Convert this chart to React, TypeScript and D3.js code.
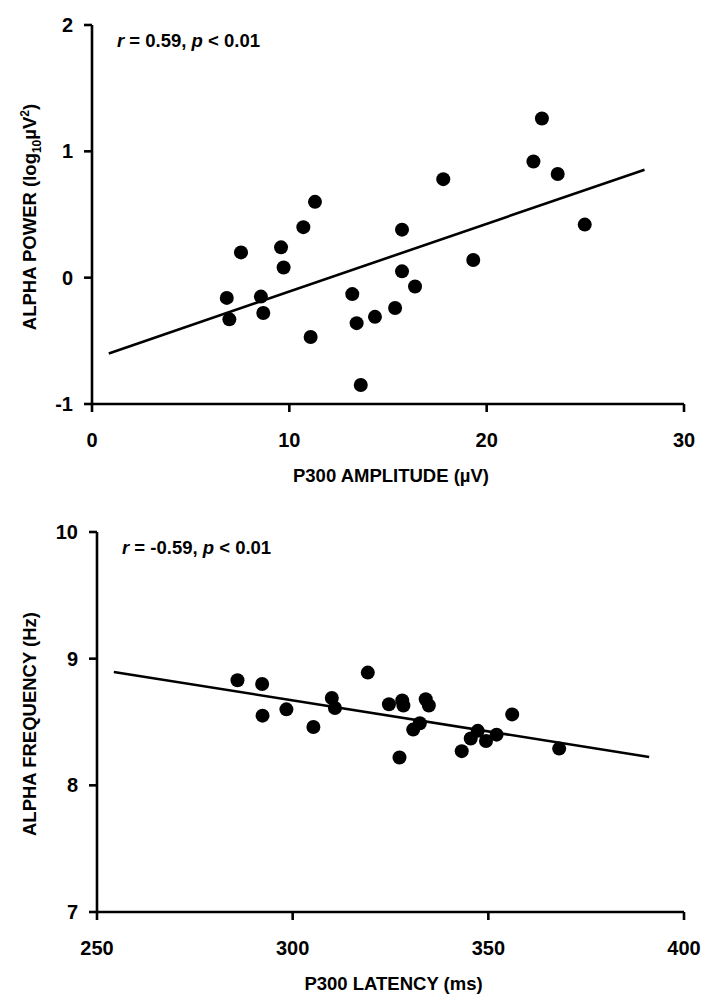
import React from "react";
import * as d3 from "d3";

// P300 amplitude (µV) vs alpha power (log10 µV²)
const amplitude = [6.83, 6.96, 7.55, 8.56, 8.68, 9.58, 9.71, 10.71, 11.08, 11.3, 13.19, 13.41, 13.62, 14.34, 15.36, 15.71, 15.71, 16.37, 17.8, 19.32, 22.37, 22.8, 23.6, 24.97];
const alphaPower = [-0.16, -0.33, 0.2, -0.15, -0.28, 0.24, 0.08, 0.4, -0.47, 0.6, -0.13, -0.36, -0.85, -0.31, -0.24, 0.38, 0.05, -0.07, 0.78, 0.14, 0.92, 1.26, 0.82, 0.42];
const powerFitX = [0.85, 28.0];
const powerFitY = [-0.6, 0.855];
const amplitudeTicks = [0, 10, 20, 30];
const powerTicks = [-1, 0, 1, 2];

// P300 latency (ms) vs alpha frequency (Hz)
const latency = [285.9, 292.2, 292.3, 298.4, 305.3, 310.0, 310.8, 319.2, 324.6, 328.0, 328.3, 327.3, 334.0, 334.8, 332.5, 330.8, 343.2, 345.5, 347.3, 349.4, 352.1, 356.1, 368.1];
const alphaFreq = [8.83, 8.8, 8.55, 8.6, 8.46, 8.69, 8.61, 8.89, 8.64, 8.67, 8.63, 8.22, 8.68, 8.63, 8.49, 8.44, 8.27, 8.37, 8.43, 8.35, 8.4, 8.56, 8.29];
const freqFitX = [254.3, 391.1];
const freqFitY = [8.895, 8.224];
const latencyTicks = [250, 300, 350, 400];
const freqTicks = [7, 8, 9, 10];

const FONT = "'Liberation Sans', Arial, Helvetica, sans-serif";

interface PanelProps {
  xs: number[];
  ys: number[];
  fitX: number[];
  fitY: number[];
  xTicks: number[];
  yTicks: number[];
  left: number;
  right: number;
  top: number;
  bottom: number;
  xTitle: string;
  yTitle: React.ReactNode;
  yTitleCenter: number;
  r: string;
}

const Panel: React.FC<PanelProps> = (p) => {
  const x = d3
    .scaleLinear()
    .domain(d3.extent(p.xTicks) as [number, number])
    .range([p.left, p.right]);
  const y = d3
    .scaleLinear()
    .domain(d3.extent(p.yTicks) as [number, number])
    .range([p.bottom, p.top]);

  const line = d3
    .line<number>()
    .x((_, i) => x(p.fitX[i]))
    .y((d) => y(d));

  return (
    <g fontFamily={FONT} fontWeight="bold" fill="#000">
      {/* axes */}
      <line x1={p.left} x2={p.left} y1={p.top} y2={p.bottom} stroke="#000" strokeWidth={2.6} />
      <line x1={p.left} x2={p.right} y1={p.bottom} y2={p.bottom} stroke="#000" strokeWidth={2.6} />
      {p.yTicks.map((t) => (
        <g key={"y" + t}>
          <line x1={p.left - 8} x2={p.left} y1={y(t)} y2={y(t)} stroke="#000" strokeWidth={2.6} />
          <text x={p.left - 19} y={y(t) + 7} textAnchor="end" fontSize={20}>
            {t}
          </text>
        </g>
      ))}
      {p.xTicks.map((t) => (
        <g key={"x" + t}>
          <line x1={x(t)} x2={x(t)} y1={p.bottom} y2={p.bottom + 8} stroke="#000" strokeWidth={2.6} />
          <text x={x(t)} y={p.bottom + 43} textAnchor="middle" fontSize={20}>
            {t}
          </text>
        </g>
      ))}
      <text x={(p.left + p.right) / 2 + 3} y={p.bottom + 78} textAnchor="middle" fontSize={18.5}>
        {p.xTitle}
      </text>
      <text
        transform={`translate(36, ${p.yTitleCenter}) rotate(-90)`}
        textAnchor="middle"
        fontSize={18.5}
      >
        {p.yTitle}
      </text>
      <text x={p.left + 25} y={p.top + 22} fontSize={18.5}>
        <tspan fontStyle="italic">r</tspan>
        {` = ${p.r}, `}
        <tspan fontStyle="italic">p</tspan>
        {" < 0.01"}
      </text>
      {/* regression line */}
      <path d={line(p.fitY) || ""} fill="none" stroke="#000" strokeWidth={2.6} />
      {p.xs.map((v, i) => (
        <circle key={i} cx={x(v)} cy={y(p.ys[i])} r={7} fill="#000" />
      ))}
    </g>
  );
};

export default function App() {
  return (
    <svg
      width={711}
      height={1006}
      style={{ position: "absolute", left: 0, top: 0, background: "#fff" }}
    >
      <rect width={711} height={1006} fill="#fff" />
      <Panel
        xs={amplitude}
        ys={alphaPower}
        fitX={powerFitX}
        fitY={powerFitY}
        xTicks={amplitudeTicks}
        yTicks={powerTicks}
        left={92}
        right={684}
        top={25}
        bottom={404}
        xTitle="P300 AMPLITUDE (µV)"
        yTitle={
          <>
            ALPHA POWER (log
            <tspan fontSize={12} dy={5}>10</tspan>
            <tspan dy={-5}>µV</tspan>
            <tspan fontSize={12} dy={-7}>2</tspan>
            <tspan dy={7}>)</tspan>
          </>
        }
        yTitleCenter={217}
        r="0.59"
      />
      <Panel
        xs={latency}
        ys={alphaFreq}
        fitX={freqFitX}
        fitY={freqFitY}
        xTicks={latencyTicks}
        yTicks={freqTicks}
        left={97}
        right={684}
        top={532}
        bottom={912}
        xTitle="P300 LATENCY (ms)"
        yTitle="ALPHA FREQUENCY (Hz)"
        yTitleCenter={724}
        r="-0.59"
      />
    </svg>
  );
}
